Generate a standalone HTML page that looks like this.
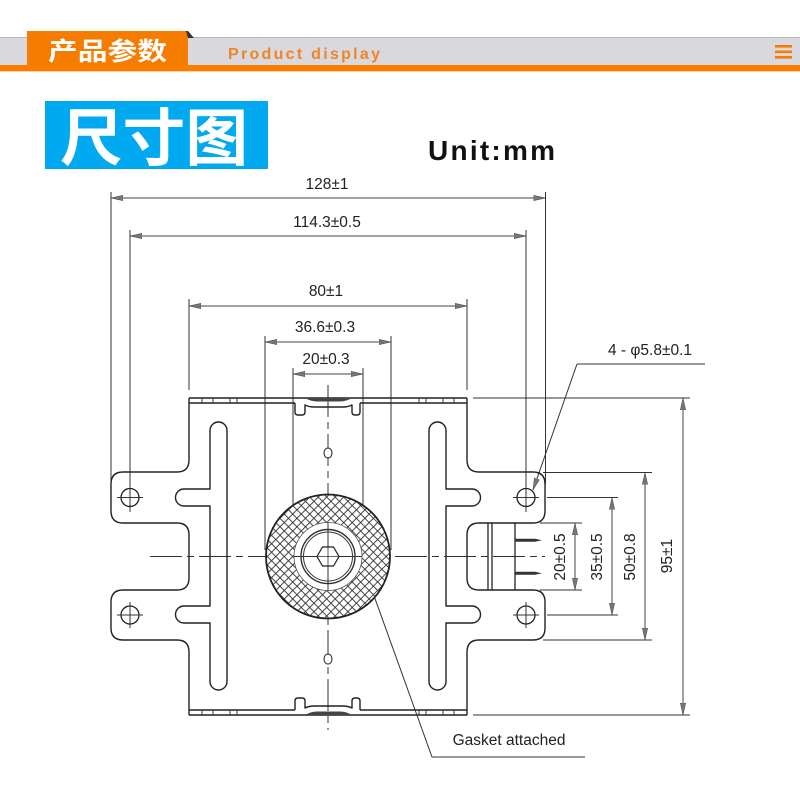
<!DOCTYPE html>
<html><head><meta charset="utf-8"><style>
html,body{margin:0;padding:0;background:#fff;}
svg{display:block;}
</style></head><body>
<svg width="800" height="800" viewBox="0 0 800 800" xmlns="http://www.w3.org/2000/svg">
<defs>
<marker id="ar" viewBox="0 0 12 6" refX="12" refY="3" markerWidth="12" markerHeight="6" markerUnits="userSpaceOnUse" orient="auto-start-reverse">
<path d="M0,0.3 L12,3 L0,5.7 Z" fill="#777" stroke="#444" stroke-width="0.5"/>
</marker>
<pattern id="hatch" patternUnits="userSpaceOnUse" width="6" height="6" patternTransform="rotate(45)">
<rect width="6" height="6" fill="#fff"/>
<line x1="0" y1="0.5" x2="6" y2="0.5" stroke="#333" stroke-width="0.9"/>
<line x1="0.5" y1="0" x2="0.5" y2="6" stroke="#333" stroke-width="0.9"/>
</pattern>
</defs>

<!-- header -->
<rect x="0" y="37" width="800" height="28" fill="#d9d8dd"/>
<line x1="0" y1="37.5" x2="800" y2="37.5" stroke="#b8b8bc" stroke-width="1"/>
<rect x="0" y="65" width="800" height="6" fill="#fb7d00"/>
<line x1="0" y1="71.5" x2="800" y2="71.5" stroke="#fcd3a8" stroke-width="1"/>
<rect x="27" y="31" width="161" height="34" fill="#f67c00"/>
<polygon points="186,31 188,31 194,38 188,38" fill="#333"/>
<text x="48" y="60" font-family="'Liberation Sans','Noto Sans CJK SC',sans-serif" font-size="25" font-weight="bold" fill="#fff" textLength="119" lengthAdjust="spacingAndGlyphs">产品参数</text>
<text x="228" y="59" font-family="'Liberation Sans',sans-serif" font-size="16" font-weight="bold" fill="#f08428" textLength="152" lengthAdjust="spacing">Product display</text>
<rect x="775" y="45" width="17" height="2.6" fill="#f57c00"/>
<rect x="775" y="50.5" width="17" height="2.6" fill="#f57c00"/>
<rect x="775" y="56" width="17" height="2.6" fill="#f57c00"/>

<!-- title box -->
<rect x="45" y="101" width="223" height="68" fill="#00a9f0"/>
<text x="60" y="160" font-family="'Liberation Sans','Noto Sans CJK SC',sans-serif" font-size="62" font-weight="bold" fill="#fff" textLength="188" lengthAdjust="spacingAndGlyphs">尺寸图</text>
<text x="428" y="160" font-family="'Liberation Sans',sans-serif" font-size="28" font-weight="bold" fill="#111" textLength="127" lengthAdjust="spacing">Unit:mm</text>

<g stroke="#333" stroke-width="1" fill="none">
<line x1="111" y1="192" x2="111" y2="484"/>
<line x1="545.5" y1="192" x2="545.5" y2="484"/>
<line x1="130" y1="230" x2="130" y2="512"/>
<line x1="526" y1="230" x2="526" y2="512"/>
<line x1="189" y1="299" x2="189" y2="390"/>
<line x1="467" y1="299" x2="467" y2="390"/>
<line x1="265" y1="336" x2="265" y2="550"/>
<line x1="391" y1="336" x2="391" y2="550"/>
<line x1="293" y1="368" x2="293" y2="505"/>
<line x1="363" y1="368" x2="363" y2="505"/>
</g>
<g stroke="#444" stroke-width="1" fill="none" marker-start="url(#ar)" marker-end="url(#ar)">
<line x1="111" y1="198" x2="545.5" y2="198"/>
<line x1="130" y1="236" x2="526" y2="236"/>
<line x1="189" y1="306" x2="467" y2="306"/>
<line x1="265" y1="342" x2="391" y2="342"/>
<line x1="293" y1="374" x2="363" y2="374"/>
<line x1="575" y1="523" x2="575" y2="590"/>
<line x1="612" y1="497.5" x2="612" y2="615"/>
<line x1="645" y1="472.5" x2="645" y2="640"/>
<line x1="683" y1="398" x2="683" y2="715"/>
</g>
<g font-family="'Liberation Sans',sans-serif" font-size="15.5" fill="#222" text-anchor="middle">
<text x="327" y="189">128±1</text>
<text x="327" y="227">114.3±0.5</text>
<text x="326" y="296">80±1</text>
<text x="325" y="332">36.6±0.3</text>
<text x="326" y="364">20±0.3</text>
<text transform="translate(565,557) rotate(-90)">20±0.5</text>
<text transform="translate(602,557) rotate(-90)">35±0.5</text>
<text transform="translate(635,557) rotate(-90)">50±0.8</text>
<text transform="translate(672,556) rotate(-90)">95±1</text>
<text x="650" y="355">4 - φ5.8±0.1</text>
<text x="509" y="745">Gasket attached</text>
</g>

<g stroke="#333" stroke-width="1" fill="none">
<line x1="473" y1="398" x2="690" y2="398"/>
<line x1="473" y1="715" x2="690" y2="715"/>
<line x1="543" y1="472.5" x2="652" y2="472.5"/>
<line x1="543" y1="640" x2="652" y2="640"/>
<line x1="547" y1="497.5" x2="618" y2="497.5"/>
<line x1="547" y1="615" x2="618" y2="615"/>
<line x1="540" y1="523" x2="582" y2="523"/>
<line x1="540" y1="590" x2="582" y2="590"/>
<polyline points="705,364 577,364"/>
<line x1="577" y1="364" x2="533" y2="490" marker-end="url(#ar)"/>
<polyline points="373,593 432,757 585,757"/>
</g>

<g stroke="#333" stroke-width="1" fill="none" stroke-dasharray="32 5 7 5">
<line x1="150" y1="556.5" x2="545" y2="556.5"/>
<line x1="328" y1="385" x2="328" y2="730"/>
</g>

<g stroke="#222" stroke-width="1.4" fill="none" stroke-linejoin="round">
<path d="M189,398 V460 Q189,472 177,472 H123 Q111,472 111,484 V511 Q111,523 123,523 H177 Q189,523 189,535 V578 Q189,590 177,590 H123 Q111,590 111,602 V628 Q111,640 123,640 H177 Q189,640 189,652 V715"/>
<path d="M467,398 V460 Q467,472 479,472 H533 Q545,472 545,484 V511 Q545,523 533,523 H479 Q467,523 467,535 V578 Q467,590 479,590 H533 Q545,590 545,602 V628 Q545,640 533,640 H479 Q467,640 467,652 V715"/>
<line x1="189" y1="398" x2="467" y2="398"/>
<line x1="189" y1="715" x2="467" y2="715"/>
<path d="M189,403 H295 M360,403 H467"/>
<path d="M189,710 H295 M360,710 H467"/>
<path d="M210,430.5 A8.5,8.5 0 0 1 227,430.5 V681.5 A8.5,8.5 0 0 1 210,681.5 V623 H184 A8.5,8.5 0 0 1 184,606 H210 V506 H184 A8.5,8.5 0 0 1 184,489 H210 Z"/>
<path d="M446,430.5 A8.5,8.5 0 0 0 429,430.5 V681.5 A8.5,8.5 0 0 0 446,681.5 V623 H472 A8.5,8.5 0 0 0 472,606 H446 V506 H472 A8.5,8.5 0 0 0 472,489 H446 Z"/>
<path d="M295,403 V412 Q295,415 298,415 H302 Q305,415 305,412 V405 Q309,407 314,407 H343 Q348,407 352,405 V412 Q352,415 355,415 H357 Q360,415 360,412 V403"/>
<path d="M295,710 V701 Q295,698 298,698 H302 Q305,698 305,701 V708 Q309,706 314,706 H343 Q348,706 352,708 V701 Q352,698 355,698 H357 Q360,698 360,701 V710"/>
</g>
<path d="M305,398 Q311,401.5 317,401.5 H340 Q346,401.5 352,398 Z" fill="#444"/>
<path d="M305,715 Q311,711.5 317,711.5 H340 Q346,711.5 352,715 Z" fill="#444"/>
<g stroke="#333" stroke-width="1">
<line x1="202" y1="398" x2="202" y2="403"/><line x1="213" y1="398" x2="213" y2="403"/>
<line x1="230" y1="398" x2="230" y2="403"/><line x1="237" y1="398" x2="237" y2="403"/>
<line x1="419" y1="398" x2="419" y2="403"/><line x1="426" y1="398" x2="426" y2="403"/>
<line x1="443" y1="398" x2="443" y2="403"/><line x1="454" y1="398" x2="454" y2="403"/>
<line x1="202" y1="710" x2="202" y2="715"/><line x1="213" y1="710" x2="213" y2="715"/>
<line x1="230" y1="710" x2="230" y2="715"/><line x1="237" y1="710" x2="237" y2="715"/>
<line x1="419" y1="710" x2="419" y2="715"/><line x1="426" y1="710" x2="426" y2="715"/>
<line x1="443" y1="710" x2="443" y2="715"/><line x1="454" y1="710" x2="454" y2="715"/>
</g>

<g stroke="#222" stroke-width="1.3" fill="none">
<line x1="488" y1="523" x2="488" y2="590"/>
<line x1="492" y1="523" x2="492" y2="590"/>
<line x1="515" y1="523" x2="515" y2="590"/>
</g>
<path d="M515,538.8 H535 L542,540.3 L535,541.8 H515 Z" fill="#333"/>
<path d="M515,571.8 H535 L542,573.3 L535,574.8 H515 Z" fill="#333"/>

<g stroke="#222" stroke-width="1.3" fill="none">
<circle cx="130" cy="497.5" r="9"/>
<circle cx="130" cy="615" r="9"/>
<circle cx="526" cy="497.5" r="9"/>
<circle cx="526" cy="615" r="9"/>
</g>
<g stroke="#333" stroke-width="1">
<line x1="117" y1="497.5" x2="143" y2="497.5"/>
<line x1="117" y1="615" x2="143" y2="615"/><line x1="130" y1="602" x2="130" y2="628"/>
<line x1="513" y1="497.5" x2="539" y2="497.5"/>
<line x1="513" y1="615" x2="539" y2="615"/><line x1="526" y1="602" x2="526" y2="628"/>
</g>
<ellipse cx="328" cy="453" rx="4" ry="5" fill="#fff" stroke="#333" stroke-width="1.1"/>
<ellipse cx="328" cy="659" rx="4" ry="5" fill="#fff" stroke="#333" stroke-width="1.1"/>

<circle cx="328" cy="556.5" r="62" fill="url(#hatch)" stroke="#222" stroke-width="1.8"/>
<circle cx="328" cy="556.5" r="34" fill="#fff" stroke="#555" stroke-width="0.8"/>
<circle cx="328" cy="556.5" r="27" fill="none" stroke="#333" stroke-width="1.4"/>
<circle cx="328" cy="556.5" r="24.5" fill="none" stroke="#333" stroke-width="1"/>
<line x1="294" y1="556.5" x2="362" y2="556.5" stroke="#333" stroke-width="1"/>
<line x1="328" y1="522.5" x2="328" y2="590.5" stroke="#333" stroke-width="1"/>
<polygon points="317,556.5 322.5,547 333.5,547 339,556.5 333.5,566 322.5,566" fill="#fff" stroke="#222" stroke-width="1.2"/>
<line x1="317" y1="556.5" x2="339" y2="556.5" stroke="#333" stroke-width="0.8"/>
<line x1="328" y1="547" x2="328" y2="566" stroke="#333" stroke-width="0.8"/>
</svg>
</body></html>
